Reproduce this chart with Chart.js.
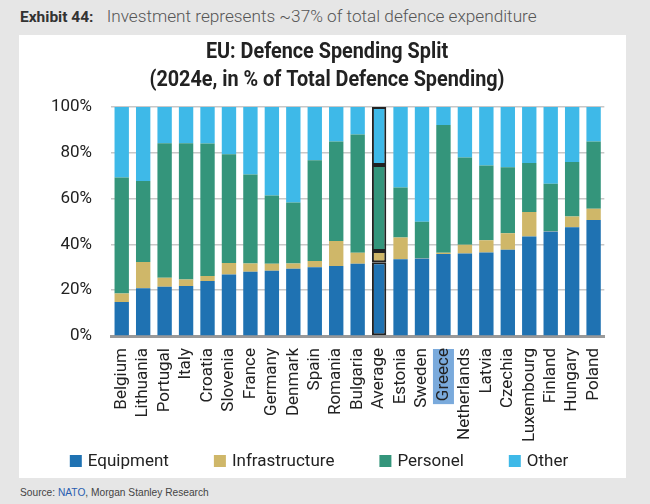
<!DOCTYPE html>
<html>
<head>
<meta charset="utf-8">
<script src="https://cdn.jsdelivr.net/npm/chart.js@4"></script>
<style>
  body { margin: 0; background: #e6e6e6; width: 650px; height: 504px; position: relative; overflow: hidden; font-family: Roboto, sans-serif; }
  #head { position: absolute; left: 20px; top: 6px; font-size: 17.2px; color: #555; font-weight: 300; white-space: nowrap; }
  #head b { font-weight: 700; color: #333; font-size: 15.5px; margin-right: 9px; }
  #panel { position: absolute; left: 19px; top: 35px; width: 607px; height: 443px; background: #fff; }
  #src { position: absolute; left: 20px; top: 487px; font-size: 10.2px; color: #444; font-family: "Liberation Sans", Arial, sans-serif; }
  #src span { color: #2a5db0; }
</style>
</head>
<body>
<div id="head"><b>Exhibit 44:</b> Investment represents ~37% of total defence expenditure</div>
<div id="panel"><canvas id="myChart" width="607" height="443"></canvas></div>
<div id="src">Source: <span>NATO</span>, Morgan Stanley Research</div>
<script>
const countries = ['Belgium','Lithuania','Portugal','Italy','Croatia','Slovenia','France','Germany','Denmark','Spain','Romania','Bulgaria','Average','Estonia','Sweden','Greece','Netherlands','Latvia','Czechia','Luxembourg','Finland','Hungary','Poland']
const equipment      = [14.9,20.8,21.5,21.8,24.0,26.9,28.1,28.5,29.4,30.0,30.6,31.6,32.2,33.5,33.8,35.8,36.0,36.5,37.7,43.4,45.6,47.5,50.7]
const infrastructure = [3.7,11.5,3.9,2.9,2.2,5.0,3.6,3.1,2.3,2.7,10.9,4.7,4.9,9.5,0.3,0.5,3.8,5.3,7.2,10.7,0.3,4.7,4.9]
const personel       = [50.6,35.4,58.8,59.5,57.9,47.5,38.8,29.7,26.6,44.1,43.4,51.7,37.6,21.8,15.8,55.8,38.1,32.6,28.8,21.5,20.6,23.8,29.3]
const other          = [30.8,32.3,15.8,15.8,15.9,20.6,29.5,38.7,41.7,23.2,15.1,12.0,25.3,35.2,50.1,7.9,22.1,25.6,26.3,24.4,33.5,24.0,15.1]
const y_ticks = [0,20,40,60,80,100]
const title_lines = ['EU: Defence Spending Split', '(2024e, in % of Total Defence Spending)']

const avg_index = countries.indexOf('Average')
const greece_index = countries.indexOf('Greece')
const font_family = "Roboto, sans-serif"

const make_set = (label, values, color) => {
  return {
    label: label,
    data: values,
    backgroundColor: color,
    borderColor: (c) => c.dataIndex === avg_index ? '#222' : color,
    borderWidth: (c) => c.dataIndex === avg_index ? 2 : 0,
    borderSkipped: false,
    barPercentage: 0.67,
    categoryPercentage: 1,
  }
}

// highlight behind the Greece tick label
const greece_box = {
  id: 'greece_box',
  beforeDraw(chart) {
    const ctx = chart.ctx
    const x_scale = chart.scales.x
    const x = x_scale.getPixelForTick(greece_index)
    ctx.save()
    ctx.font = `17px ${font_family}`
    const w = ctx.measureText('Greece').width
    ctx.fillStyle = '#7aaadc'
    ctx.fillRect(x - 10.5, x_scale.top + 13, 21, w + 2)
    ctx.restore()
  }
}

// condensed bold title drawn on the canvas
const narrow_title = {
  id: 'narrow_title',
  afterDraw(chart) {
    const ctx = chart.ctx
    ctx.save()
    ctx.font = `bold 22px ${font_family}`
    ctx.fillStyle = '#222'
    ctx.textAlign = 'center'
    ctx.textBaseline = 'middle'
    ctx.translate(308, 0)
    ctx.scale(0.9, 1)
    ctx.fillText(title_lines[0], 0, 17)
    ctx.fillText(title_lines[1], 0, 45)
    ctx.restore()
  }
}

// wide-spaced legend row under the axis labels
const wide_legend = {
  id: 'wide_legend',
  afterDraw(chart) {
    const ctx = chart.ctx
    const sets = chart.data.datasets
    const gap = 45
    ctx.save()
    ctx.font = `17px ${font_family}`
    const widths = sets.map(d => 18 + ctx.measureText(d.label).width)
    const total = widths.reduce((a, b) => a + b, 0) + gap * (sets.length - 1)
    let x = 300 - total / 2
    const y = 426
    ctx.textBaseline = 'middle'
    sets.forEach((d, i) => {
      ctx.fillStyle = d.backgroundColor
      ctx.fillRect(x, y - 6, 12, 12)
      ctx.fillStyle = '#222'
      ctx.fillText(d.label, x + 18, y + 1)
      x += widths[i] + gap
    })
    ctx.restore()
  }
}

const data = {
  labels: countries,
  datasets: [
    make_set('Equipment', equipment, '#1f72b2'),
    make_set('Infrastructure', infrastructure, '#cfb769'),
    make_set('Personel', personel, '#34957b'),
    make_set('Other', other, '#3eb9e8'),
  ]
}

const config = {
  type: 'bar',
  data: data,
  plugins: [greece_box, narrow_title, wide_legend],
  options: {
    responsive: false,
    animation: false,
    layout: { padding: { left: 0, right: 0, top: 72, bottom: 35 } },
    plugins: {
      title: { display: false },
      legend: { display: false },
      tooltip: { enabled: false },
    },
    scales: {
      x: {
        stacked: true,
        grid: { display: false, drawTicks: false },
        border: { color: '#999', width: 3 },
        ticks: {
          maxRotation: 90,
          minRotation: 90,
          autoSkip: false,
          padding: 12,
          color: '#222',
          font: { family: font_family, size: 17 },
        },
        afterFit: (s) => { s.height = 107 },
      },
      y: {
        stacked: true,
        min: 0,
        max: 100,
        afterBuildTicks: (s) => { s.ticks = y_ticks.map(v => ({ value: v })) },
        grid: { color: '#c8c8c8', lineWidth: 1.5, drawTicks: false },
        border: { display: false },
        ticks: {
          padding: 19,
          color: '#222',
          font: { family: font_family, size: 17 },
          callback: (v) => v + '%',
        },
        afterFit: (s) => { s.width = 92 },
      }
    }
  }
}

const myChart = new Chart(document.getElementById('myChart'), config)
</script>
</body>
</html>
